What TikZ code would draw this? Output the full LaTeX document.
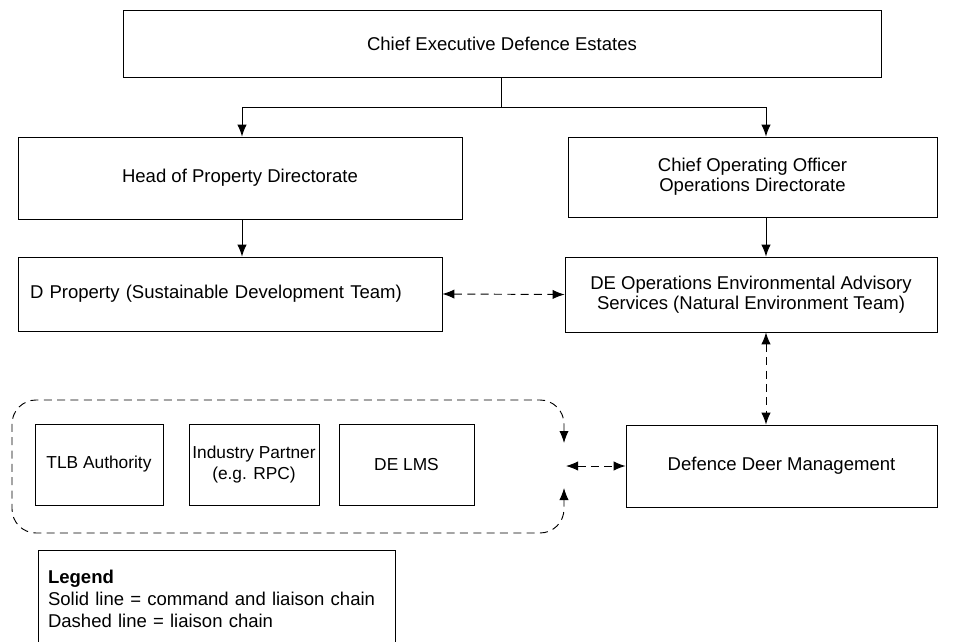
\documentclass[tikz,border=0pt]{standalone}
\usepackage{fontspec}
\setmainfont{Liberation Sans}
\usepackage{tikz}
\usetikzlibrary{positioning,arrows.meta}

\begin{document}
\begin{tikzpicture}[x=0.75pt, y=-0.75pt, >={Latex[length=9pt,width=7pt]},
	box/.style={draw, line width=0.6pt, align=center, inner sep=0pt, font=\fontsize{13.9}{15}\selectfont},
	member/.style={box, minimum height=60.75pt, font=\fontsize{13}{16}\selectfont},
	link/.style={->, line width=0.7pt},
	liaison/.style={<->, line width=0.7pt, dash pattern=on 6pt off 4pt}]

\useasboundingbox (0, 0) rectangle (957, 642);

\node[box, minimum width=568.5pt, minimum height=50.25pt] (ceo) at (502, 43.5) {Chief Executive Defence Estates};

\node[box, minimum width=333pt, minimum height=61.5pt] (hpd) at (240, 178) {Head of Property Directorate};
\node[box, minimum width=276.75pt, minimum height=60pt] (coo) at (752.5, 177) {Chief Operating Officer\\Operations Directorate};

\node[box, minimum width=318pt, minimum height=55.5pt, align=left, inner xsep=9pt, text width=300pt] (dprop) at (230, 294) {D Property (Sustainable Development Team)};
\node[box, minimum width=279pt, minimum height=56.25pt] (deops) at (751, 294.5) {DE Operations Environmental Advisory\\Services (Natural Environment Team)};

\node[member, minimum width=96pt] (tlb) at (99, 464.5) {TLB Authority};
\node[member, minimum width=97.5pt] (ip) at (254, 464.5) {Industry Partner\\(e.g. RPC)};
\node[member, minimum width=101.25pt] (lms) at (406.5, 464.5) {DE LMS};

\node[box, minimum width=233.25pt, minimum height=61.5pt] (ddm) at (781.5, 466) {Defence Deer Management};

\node[box, minimum width=267.75pt, minimum height=72.75pt, text width=252.75pt, align=left,
	font=\fontsize{13.9}{16.5}\selectfont] (legend) at (216.5, 598.5)
	{\textbf{Legend}\\Solid line = command and liaison chain\\Dashed line = liaison chain};

\coordinate (split) at (501, 107);
\coordinate (lcol) at (242, 0);
\coordinate (rcol) at (766, 0);
\coordinate (grp) at (566, 466);

\draw[line width=0.7pt] (ceo.south -| split) -- (split);
\draw[link] (split) -| (lcol |- hpd.north);
\draw[link] (split) -| (rcol |- coo.north);
\draw[link] (lcol |- hpd.south) -- (lcol |- dprop.north);
\draw[link] (rcol |- coo.south) -- (rcol |- deops.north);

\draw[liaison] (dprop.east) -- (deops.west);
\draw[liaison] (rcol |- deops.south) -- (rcol |- ddm.north);
\draw[liaison] (grp) -- (ddm.west);

\draw[liaison, rounded corners=18pt] (564, 443) |- (12, 400) |- (564, 533) -- (564, 488);

\end{tikzpicture}
\end{document}
